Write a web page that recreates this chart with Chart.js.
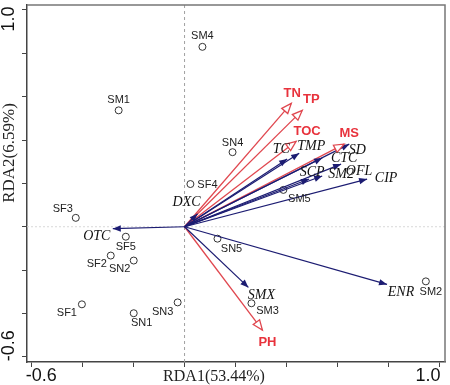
<!DOCTYPE html>
<html>
<head>
<meta charset="utf-8">
<script src="https://cdn.jsdelivr.net/npm/chart.js@4/dist/chart.umd.min.js"></script>
<style>
  html, body { margin: 0; padding: 0; background: #fff; }
  #wrap { width: 450px; height: 385px; }
</style>
</head>
<body>
<div id="wrap"><canvas id="rdaChart"></canvas></div>
<script>
// sample sites (RDA scores)
const siteNames = ['SM1', 'SM2', 'SM3', 'SM4', 'SM5', 'SN1', 'SN2', 'SN3', 'SN4', 'SN5', 'SF1', 'SF2', 'SF3', 'SF4', 'SF5'];
const siteX = [-0.258, 0.945, 0.262, 0.070, 0.387, -0.199, -0.199, -0.027, 0.188, 0.129, -0.402, -0.289, -0.426, 0.023, -0.230];
const siteY = [0.537, -0.252, -0.353, 0.830, 0.170, -0.399, -0.156, -0.349, 0.344, -0.055, -0.358, -0.133, 0.041, 0.197, -0.046];

// environmental factors (red arrows)
const envNames = ['TN', 'TP', 'TOC', 'MS', 'PH'];
const envX = [0.418, 0.461, 0.437, 0.625, 0.305];
const envY = [0.569, 0.537, 0.394, 0.381, -0.477];

// antibiotics (navy arrows)
const abNames = ['OTC', 'DXC', 'TC', 'TMP', 'CTC', 'SD', 'SCP', 'SM2', 'OFL', 'CIP', 'ENR', 'SMX'];
const abX = [-0.281, 0.051, 0.402, 0.449, 0.539, 0.645, 0.488, 0.539, 0.613, 0.715, 0.793, 0.250];
const abY = [-0.009, 0.060, 0.312, 0.339, 0.317, 0.381, 0.220, 0.234, 0.289, 0.220, -0.266, -0.280];

const xTickVals = [-0.6, -0.4, -0.2, 0, 0.2, 0.4, 0.6, 0.8, 1.0];
const yTickVals = [-0.6, -0.4, -0.2, 0, 0.2, 0.4, 0.6, 0.8, 1.0];
const xTickLabels = ['-0.6', '1.0'];
const yTickLabels = ['-0.6', '1.0'];

// label offsets in pixels [dx, dy]
const siteOffsets = {
  SM1: [0, -10], SM2: [5, 11], SM3: [16, 8], SM4: [0, -11], SM5: [16, 9],
  SN1: [8, 10], SN2: [-14, 8], SN3: [-15, 10], SN4: [0, -9], SN5: [14, 10],
  SF1: [-15, 9], SF2: [-14, 8], SF3: [-13, -9], SF4: [17, 1], SF5: [0, 10]
};
const envOffsets = { TN: [1, -10], TP: [9, -11], TOC: [11, -10], MS: [5, -11], PH: [5, 12] };
const abOffsets = {
  OTC: [-16, 8], DXC: [-11, -11], TC: [-6, -10], TMP: [12, -7], CTC: [22, 0], SD: [8, 6],
  SCP: [3, -7], SM2: [19, -2], OFL: [18, 7], CIP: [19, -1], ENR: [14, 8], SMX: [13, 8]
};

const RED = '#e0474f';
const NAVY = '#1c1c72';

const datasets = [];
abNames.forEach((n, i) => {
  datasets.push({
    label: n, type: 'line', data: [{x: 0, y: 0}, {x: abX[i], y: abY[i]}],
    borderColor: NAVY, borderWidth: 1.2, pointRadius: 0, fill: false
  });
});
envNames.forEach((n, i) => {
  datasets.push({
    label: n, type: 'line', data: [{x: 0, y: 0}, {x: envX[i], y: envY[i]}],
    borderColor: RED, borderWidth: 1.3, pointRadius: 0, fill: false
  });
});
datasets.push({
  label: 'sites', type: 'scatter',
  data: siteX.map((v, i) => ({x: v, y: siteY[i]})),
  pointRadius: 3.5, pointBorderColor: '#333', pointBackgroundColor: 'rgba(0,0,0,0)', pointBorderWidth: 1
});

function arrowHead(ctx, x1, y1, x2, y2, len, half, filled, color) {
  const ang = Math.atan2(y2 - y1, x2 - x1);
  const bx = x2 - len * Math.cos(ang), by = y2 - len * Math.sin(ang);
  ctx.beginPath();
  ctx.moveTo(x2, y2);
  ctx.lineTo(bx + half * Math.sin(ang), by - half * Math.cos(ang));
  ctx.lineTo(bx - half * Math.sin(ang), by + half * Math.cos(ang));
  ctx.closePath();
  if (filled) {
    ctx.fillStyle = color; ctx.fill();
  } else {
    ctx.fillStyle = '#fff'; ctx.fill();
    ctx.strokeStyle = color; ctx.lineWidth = 1.3; ctx.stroke();
  }
}

const rdaPlugin = {
  id: 'rdaPlugin',
  beforeDatasetsDraw(chart) {
    const {ctx, chartArea: a, scales: {x, y}} = chart;
    ctx.save();
    const x0 = x.getPixelForValue(0), y0 = y.getPixelForValue(0);
    ctx.strokeStyle = '#a0a0a0'; ctx.lineWidth = 1; ctx.setLineDash([3, 3]);
    ctx.beginPath(); ctx.moveTo(x0, a.top); ctx.lineTo(x0, a.bottom); ctx.stroke();
    ctx.strokeStyle = '#d8d8d8'; ctx.setLineDash([2, 2]);
    ctx.beginPath(); ctx.moveTo(a.left, y0); ctx.lineTo(a.right, y0); ctx.stroke();
    ctx.restore();
  },
  afterDatasetsDraw(chart) {
    const {ctx, chartArea: a, scales: {x, y}} = chart;
    const x0 = x.getPixelForValue(0), y0 = y.getPixelForValue(0);
    ctx.save();
    // arrow heads
    abNames.forEach((n, i) => {
      arrowHead(ctx, x0, y0, x.getPixelForValue(abX[i]), y.getPixelForValue(abY[i]), 8, 3.2, true, NAVY);
    });
    envNames.forEach((n, i) => {
      arrowHead(ctx, x0, y0, x.getPixelForValue(envX[i]), y.getPixelForValue(envY[i]), 10, 4, false, RED);
    });
    ctx.textAlign = 'center'; ctx.textBaseline = 'middle';
    // site labels
    ctx.font = '11px "Liberation Sans", Arial, sans-serif';
    ctx.fillStyle = '#222';
    siteNames.forEach((n, i) => {
      const o = siteOffsets[n];
      ctx.fillText(n, x.getPixelForValue(siteX[i]) + o[0], y.getPixelForValue(siteY[i]) + o[1]);
    });
    // environmental labels
    ctx.font = 'bold 13px "Liberation Sans", Arial, sans-serif';
    ctx.fillStyle = '#e8323c';
    envNames.forEach((n, i) => {
      const o = envOffsets[n];
      ctx.fillText(n, x.getPixelForValue(envX[i]) + o[0], y.getPixelForValue(envY[i]) + o[1]);
    });
    // antibiotic labels
    ctx.font = 'italic 14px "Liberation Serif", "Times New Roman", serif';
    ctx.fillStyle = '#111';
    abNames.forEach((n, i) => {
      const o = abOffsets[n];
      ctx.fillText(n, x.getPixelForValue(abX[i]) + o[0], y.getPixelForValue(abY[i]) + o[1]);
    });
    ctx.restore();
  },
  afterDraw(chart) {
    const {ctx, chartArea: a, scales: {x, y}} = chart;
    ctx.save();
    // top and right frame
    ctx.strokeStyle = '#777'; ctx.lineWidth = 1.5;
    ctx.beginPath(); ctx.moveTo(a.left, a.top); ctx.lineTo(a.right, a.top); ctx.lineTo(a.right, a.bottom); ctx.stroke();
    // tick labels
    ctx.fillStyle = '#111';
    ctx.font = '18px "Liberation Sans", Arial, sans-serif';
    ctx.textBaseline = 'middle'; ctx.textAlign = 'center';
    ctx.fillText(xTickLabels[0], x.getPixelForValue(-0.6) + 10, a.bottom + 14);
    ctx.fillText(xTickLabels[1], x.getPixelForValue(1.0) - 12, a.bottom + 14);
    ctx.save();
    ctx.translate(9, y.getPixelForValue(-0.6) - 11); ctx.rotate(-Math.PI / 2);
    ctx.fillText(yTickLabels[0], 0, 0);
    ctx.restore();
    ctx.save();
    ctx.translate(9, y.getPixelForValue(1.0) + 9); ctx.rotate(-Math.PI / 2);
    ctx.fillText(yTickLabels[1], 0, 0);
    ctx.restore();
    // axis titles
    ctx.font = '16px "Liberation Serif", "Times New Roman", serif';
    ctx.fillStyle = '#222';
    ctx.fillText('RDA1(53.44%)', 214, a.bottom + 15);
    ctx.save();
    ctx.translate(10, 153); ctx.rotate(-Math.PI / 2);
    ctx.font = '17px "Liberation Serif", "Times New Roman", serif';
    ctx.fillText('RDA2(6.59%)', 0, 0);
    ctx.restore();
    ctx.restore();
  }
};

new Chart(document.getElementById('rdaChart'), {
  type: 'scatter',
  data: { datasets: datasets },
  options: {
    responsive: true,
    maintainAspectRatio: false,
    animation: false,
    layout: { padding: { top: 3, right: 4, left: 0, bottom: 0 } },
    plugins: { legend: { display: false }, tooltip: { enabled: false } },
    scales: {
      x: {
        type: 'linear', min: -0.617, max: 1.02,
        afterBuildTicks: s => { s.ticks = xTickVals.map(v => ({value: v})); },
        afterFit: s => { s.height = 23; s.paddingLeft = 0; s.paddingRight = 0; },
        ticks: { callback: () => '', font: { size: 1 }, padding: 0 },
        grid: { drawOnChartArea: false, drawTicks: true, tickLength: 5, color: '#444' },
        border: { display: true, color: '#444', width: 1.5 }
      },
      y: {
        type: 'linear', min: -0.624, max: 1.023,
        afterBuildTicks: s => { s.ticks = yTickVals.map(v => ({value: v})); },
        afterFit: s => { s.width = 27; s.paddingTop = 0; s.paddingBottom = 0; },
        ticks: { callback: () => '', font: { size: 1 }, padding: 0 },
        grid: { drawOnChartArea: false, drawTicks: true, tickLength: 5, color: '#444' },
        border: { display: true, color: '#444', width: 1.5 }
      }
    }
  },
  plugins: [rdaPlugin]
});
</script>
</body>
</html>
